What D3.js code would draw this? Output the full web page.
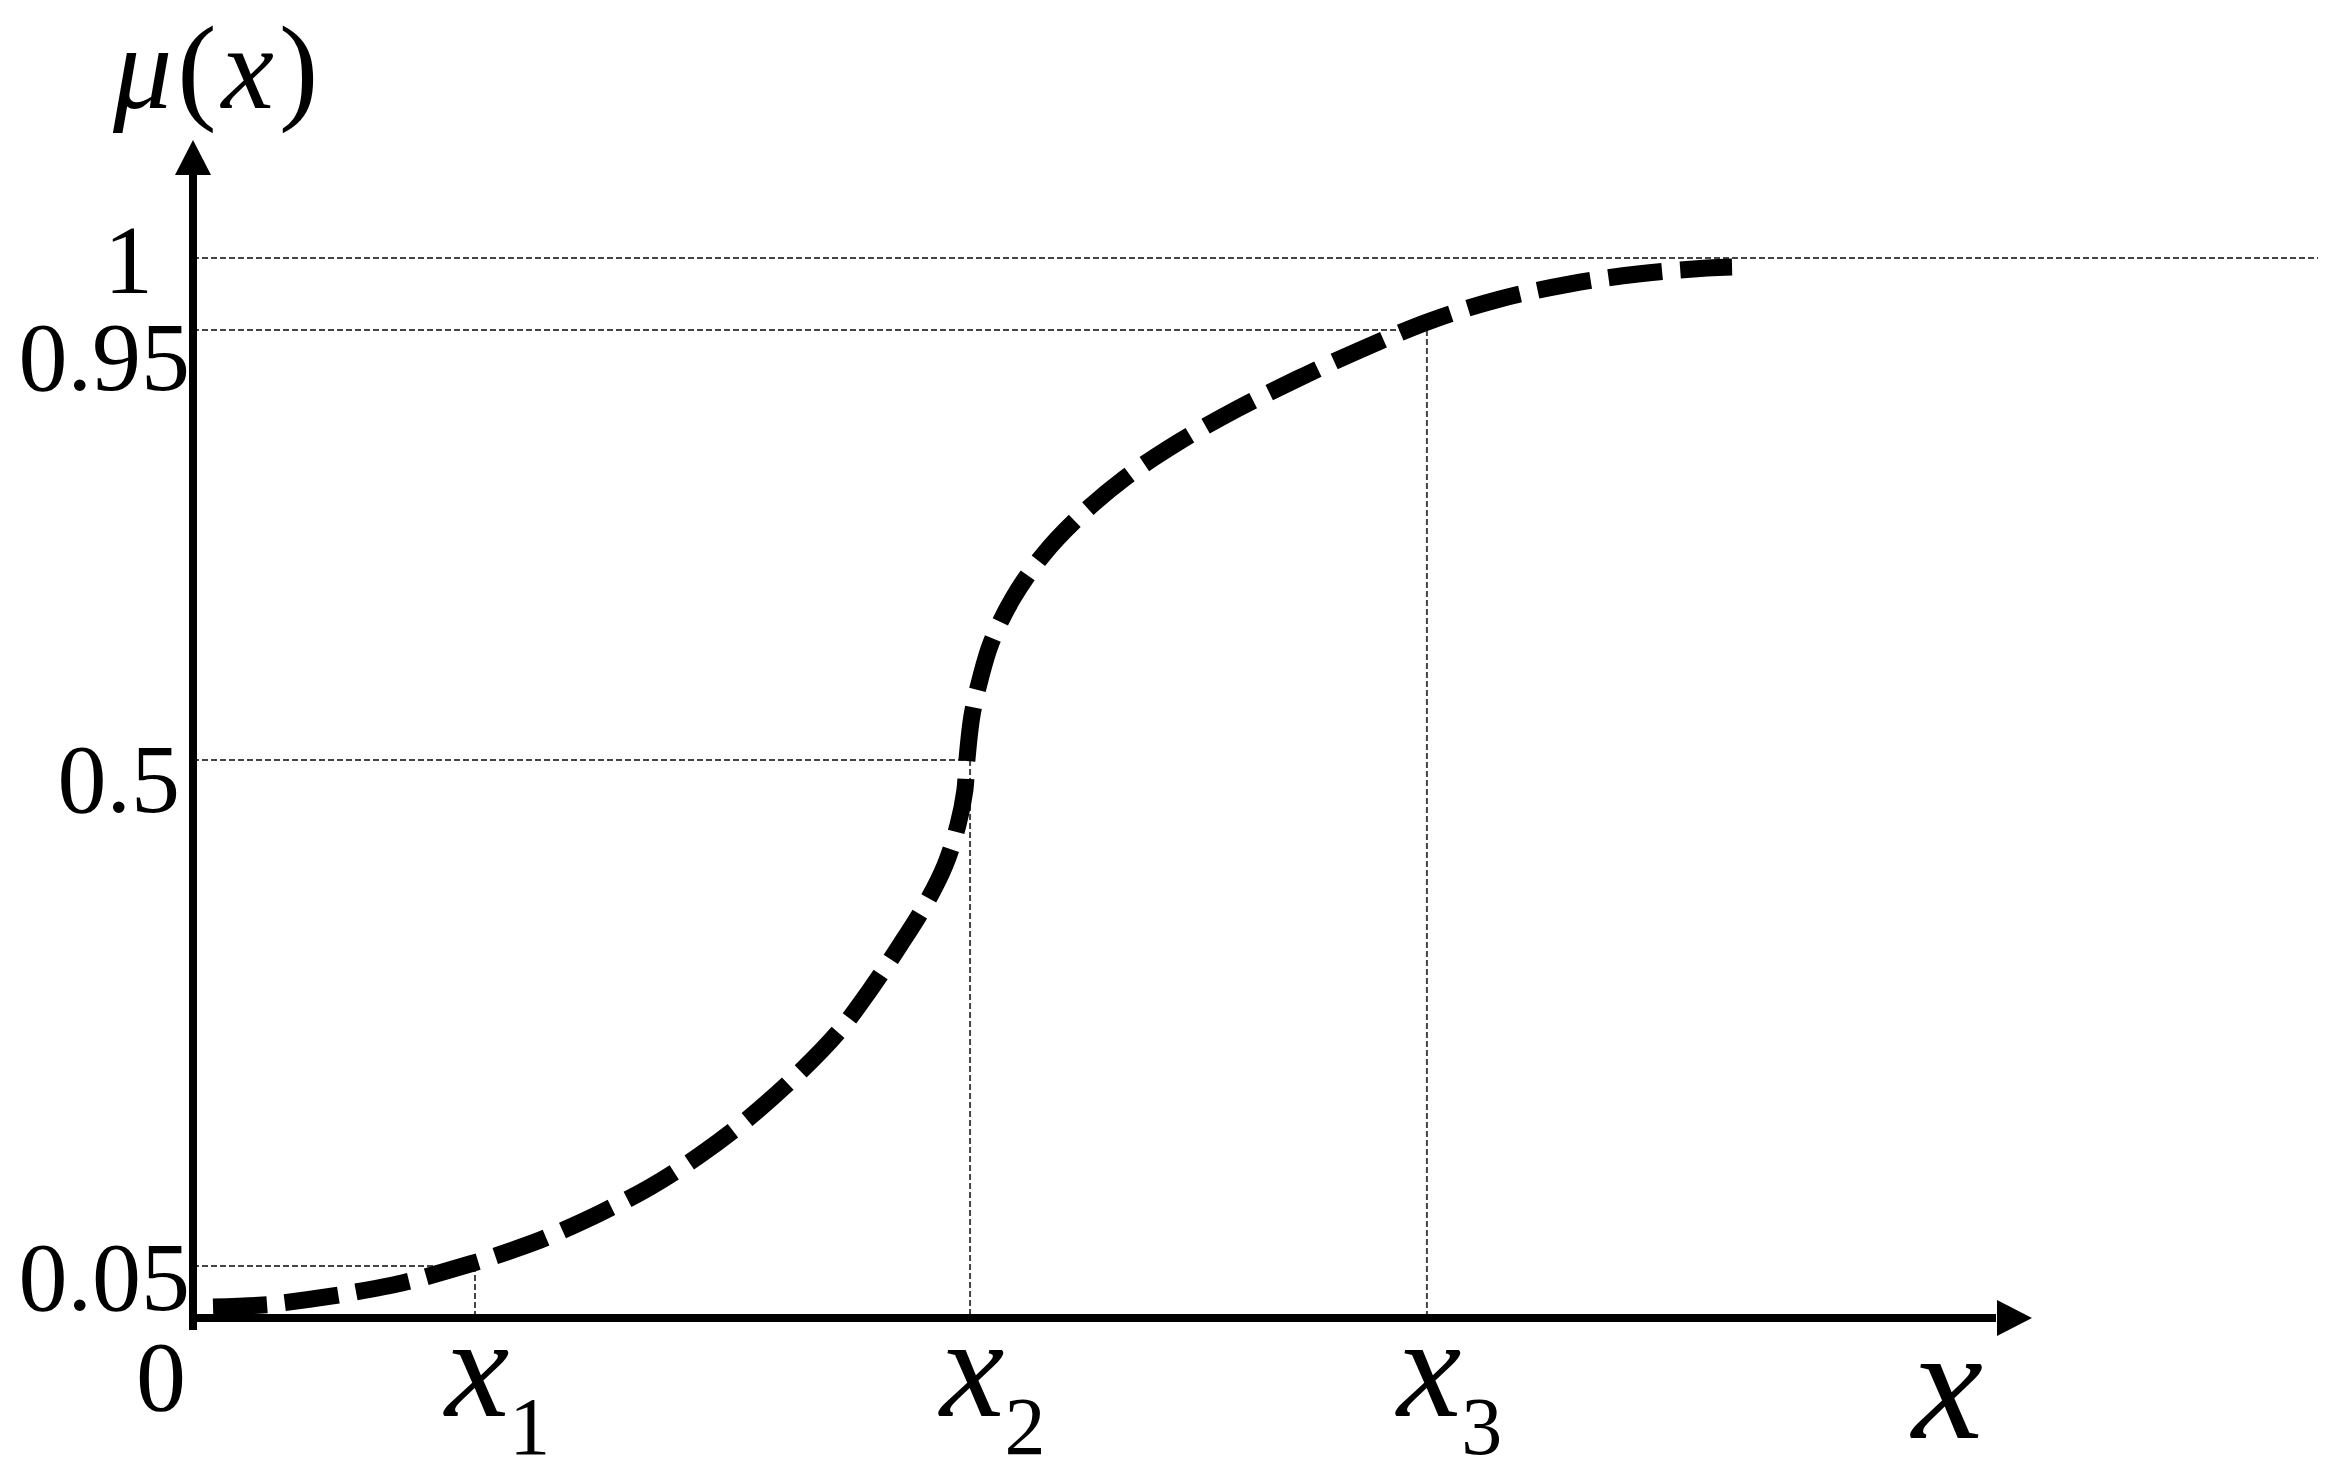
<!DOCTYPE html>
<html>
<head>
<meta charset="utf-8">
<script src="https://cdn.jsdelivr.net/npm/d3@7"></script>
<style>
  html, body { margin: 0; padding: 0; background: #fff; }
  .chart text { font-family: "Liberation Serif", "Times New Roman", serif; fill: #000; }
  .grid line { stroke: #444; stroke-width: 2; stroke-dasharray: 6 3; }
</style>
</head>
<body>
<div class="chart"></div>
<script>
// membership curve (x in axis units 0..100, mu in 0..1)
var curveX = [1.09, 3.81, 4.84, 7.62, 8.55, 11.38, 12.25, 15.08, 15.79, 18.62, 19.43, 22.16,
  24.88, 27.60, 30.32, 33.04, 35.22, 36.85, 38.49, 39.85, 40.94, 41.64, 42.02, 42.13,
  42.41, 42.84, 43.44, 44.64, 46.27, 48.34, 50.73, 53.57, 56.83, 60.10, 63.53, 67.34,
  71.15, 74.91, 78.66, 82.42, 83.78];
var curveMu = [0.0106, 0.0125, 0.0144, 0.0212, 0.0240, 0.0337, 0.0375, 0.0518, 0.0553, 0.0713, 0.0767, 0.0971,
  0.1202, 0.1487, 0.1825, 0.2225, 0.2598, 0.2954, 0.3354, 0.3710, 0.4065, 0.4421, 0.4733, 0.5,
  0.5471, 0.5837, 0.6224, 0.6695, 0.7145, 0.7564, 0.7951, 0.8317, 0.8673, 0.8987, 0.9291, 0.9563,
  0.9715, 0.9819, 0.9889, 0.9931, 0.9938];

var yTicks = [0.05, 0.5, 0.95, 1];
var yTickLabels = ["0.05", "0.5", "0.95", "1"];

var xTicks = [15.35, 42.30, 67.17];
var xTickSubs = ["1", "2", "3"];
// which horizontal level each x tick drops from
var xTickLevels = [0.05, 0.5, 0.95];

var Membership = (function() {
  var width = 2337, height = 1479;

  function drawChart() {
    var svg = d3.select(".chart").append("svg")
      .attr("width", width)
      .attr("height", height);

    // schematic axes: the marked levels are not evenly spaced in the picture
    var x = d3.scaleLinear().domain([0, 100]).range([193, 2030]);
    var y = d3.scaleLinear()
      .domain([0, 0.05, 0.5, 0.95, 1])
      .range([1318, 1266, 760, 330, 258]);

    var grid = svg.append("g").attr("class", "grid");

    // level 1 runs across the whole picture
    grid.append("line")
      .attr("x1", x(0)).attr("x2", 2318)
      .attr("y1", y(1)).attr("y2", y(1));

    grid.selectAll("line.h")
      .data(xTickLevels)
      .enter().append("line")
        .attr("class", "h")
        .attr("x1", x(0))
        .attr("x2", function(d, i) { return x(xTicks[i]); })
        .attr("y1", d => y(d))
        .attr("y2", d => y(d));

    grid.selectAll("line.v")
      .data(xTicks)
      .enter().append("line")
        .attr("class", "v")
        .attr("x1", d => x(d)).attr("x2", d => x(d))
        .attr("y1", function(d, i) { return y(xTickLevels[i]); })
        .attr("y2", y(0));

    // the dashed curve
    var pts = curveX.map(function(v, i) { return [v, curveMu[i]]; });
    var line = d3.line()
      .x(d => x(d[0]))
      .y(d => y(d[1]))
      .curve(d3.curveCatmullRom.alpha(0.5));

    svg.append("path")
      .datum(pts)
      .attr("d", line)
      .attr("fill", "none")
      .attr("stroke", "#000")
      .attr("stroke-width", 17)
      .attr("stroke-dasharray", "54 18");

    // axes with arrow heads
    var axes = svg.append("g");
    axes.append("line")
      .attr("x1", x(0)).attr("x2", x(0))
      .attr("y1", y(0) + 12).attr("y2", 172)
      .attr("stroke", "#000").attr("stroke-width", 8);
    axes.append("path")
      .attr("d", "M" + x(0) + ",140 L" + (x(0) - 18) + ",175 L" + (x(0) + 18) + ",175 Z")
      .attr("fill", "#000");

    axes.append("line")
      .attr("x1", x(0) - 4).attr("x2", x(100) - 34)
      .attr("y1", y(0)).attr("y2", y(0))
      .attr("stroke", "#000").attr("stroke-width", 8);
    axes.append("path")
      .attr("d", "M" + (x(100) + 2) + "," + y(0) + " L" + (x(100) - 33) + "," + (y(0) - 18) +
        " L" + (x(100) - 33) + "," + (y(0) + 18) + " Z")
      .attr("fill", "#000");

    // y tick labels, each nudged like in the picture
    var nudge = { "1": [-40, 35], "0.95": [-3, 60], "0.5": [-13, 52], "0.05": [-3, 44] };
    svg.selectAll("text.ytick")
      .data(yTicks)
      .enter().append("text")
        .attr("class", "ytick")
        .attr("text-anchor", "end")
        .attr("font-size", 98)
        .attr("x", function(d, i) { return x(0) + nudge[yTickLabels[i]][0]; })
        .attr("y", function(d, i) { return y(d) + nudge[yTickLabels[i]][1]; })
        .text(function(d, i) { return yTickLabels[i]; });

    svg.append("text")
      .attr("text-anchor", "middle")
      .attr("font-size", 100)
      .attr("x", x(0) - 32)
      .attr("y", 1410)
      .text("0");

    // x tick labels x1, x2, x3
    var xl = svg.selectAll("text.xtick")
      .data(xTicks)
      .enter().append("text")
        .attr("class", "xtick")
        .attr("x", d => x(d) - 30)
        .attr("y", 1416)
        .attr("font-size", 145);
    xl.append("tspan")
      .attr("font-style", "italic")
      .text("x");
    xl.append("tspan")
      .attr("font-size", 82)
      .attr("dy", 38)
      .text(function(d, i) { return xTickSubs[i]; });

    // axis titles
    svg.append("text")
      .attr("x", 1912)
      .attr("y", 1438)
      .attr("font-size", 160)
      .attr("font-style", "italic")
      .text("x");

    var t = svg.append("text")
      .attr("x", 113)
      .attr("y", 108)
      .attr("font-size", 118)
      .attr("letter-spacing", 5);
    t.append("tspan").attr("font-style", "italic").text("\u03BC");
    t.append("tspan").text("(");
    t.append("tspan").attr("font-style", "italic").text("x");
    t.append("tspan").text(")");
  }

  return {
    draw: function() {
      return drawChart();
    }
  };
})();

Membership.draw();
</script>
</body>
</html>
